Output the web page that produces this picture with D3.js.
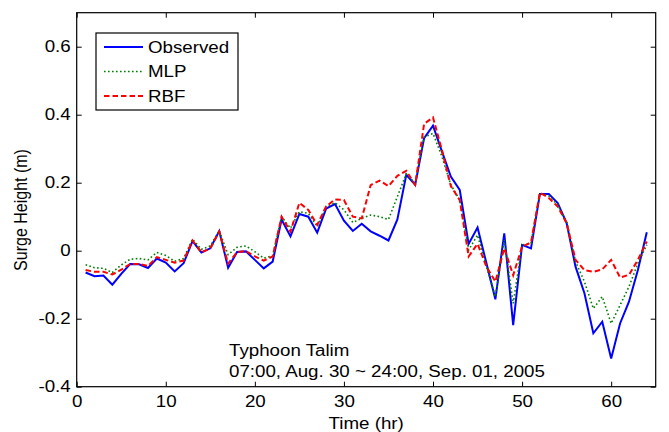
<!DOCTYPE html>
<html><head><meta charset="utf-8">
<script src="https://cdn.jsdelivr.net/npm/d3@7"></script>
<style>body{margin:0;background:#fff}svg{display:block}text{font-family:"Liberation Sans",Arial,sans-serif;font-size:16px;fill:#000}</style>
</head><body><svg id="c" width="669" height="432"></svg>
<script>
const hours=[1,2,3,4,5,6,7,8,9,10,11,12,13,14,15,16,17,18,19,20,21,22,23,24,25,26,27,28,29,30,31,32,33,34,35,36,37,38,39,40,41,42,43,44,45,46,47,48,49,50,51,52,53,54,55,56,57,58,59,60,61,62,63,64];
const observed=[-0.064,-0.075,-0.073,-0.100,-0.068,-0.039,-0.040,-0.051,-0.023,-0.035,-0.061,-0.037,0.028,-0.005,0.007,0.058,-0.050,-0.004,-0.002,-0.027,-0.052,-0.032,0.092,0.042,0.108,0.100,0.053,0.124,0.137,0.088,0.058,0.079,0.057,0.044,0.030,0.092,0.223,0.194,0.331,0.368,0.292,0.218,0.179,0.020,0.068,-0.037,-0.143,0.051,-0.219,0.017,0.007,0.167,0.167,0.140,0.081,-0.047,-0.125,-0.243,-0.209,-0.317,-0.214,-0.150,-0.057,0.054];
const mlp=[-0.041,-0.050,-0.052,-0.064,-0.042,-0.025,-0.023,-0.027,-0.005,-0.014,-0.031,-0.023,0.034,0.004,0.014,0.059,-0.012,0.010,0.014,-0.003,-0.022,-0.015,0.100,0.066,0.115,0.110,0.071,0.130,0.141,0.120,0.083,0.095,0.105,0.100,0.092,0.159,0.226,0.198,0.334,0.345,0.277,0.194,0.149,0.002,0.046,-0.047,-0.135,0.032,-0.155,0.017,0.022,0.169,0.161,0.135,0.086,-0.032,-0.091,-0.170,-0.135,-0.214,-0.160,-0.106,-0.037,0.017];
const rbf=[-0.057,-0.062,-0.062,-0.070,-0.056,-0.039,-0.039,-0.045,-0.019,-0.027,-0.035,-0.029,0.030,-0.005,0.007,0.056,-0.038,-0.004,-0.001,-0.017,-0.029,-0.017,0.100,0.056,0.141,0.120,0.076,0.130,0.151,0.149,0.100,0.095,0.193,0.206,0.190,0.220,0.235,0.194,0.373,0.392,0.296,0.190,0.149,-0.017,0.020,-0.047,-0.091,0.007,-0.072,0.012,0.024,0.171,0.155,0.130,0.081,-0.027,-0.057,-0.062,-0.055,-0.027,-0.079,-0.071,-0.027,0.027];
const xTicks=[0,10,20,30,40,50,60];
const yTicks=[-0.4,-0.2,0,0.2,0.4,0.6];
const seriesNames=["Observed","MLP","RBF"];
const titleLines=["Typhoon Talim","07:00, Aug. 30 ~ 24:00, Sep. 01, 2005"];
const xLabel="Time (hr)", yLabel="Surge Height (m)";

const svg=d3.select("#c");
const L=76.7,R=655.7,T=12.7,B=386.7;
const x=d3.scaleLinear().domain([0,65]).range([L,R]);
const y=d3.scaleLinear().domain([-0.4,0.7]).range([B,T]);
const STRETCH=1.17;

// axes
const ax=(g,axis)=>{g.call(axis);g.select(".domain").remove();g.selectAll("line").attr("stroke","#000");g.selectAll("text").attr("font-size",null).attr("font-family",null).classed("st",true);};
svg.append("g").attr("transform",`translate(0,${B})`).call(g=>ax(g,d3.axisBottom(x).tickValues(xTicks).tickSizeInner(-5).tickSizeOuter(0).tickPadding(9).tickFormat(d=>String(d))));
svg.append("g").attr("transform",`translate(0,${T})`).call(g=>ax(g,d3.axisTop(x).tickValues(xTicks).tickSizeInner(-5).tickSizeOuter(0).tickFormat("")));
svg.append("g").attr("transform",`translate(${L},0)`).call(g=>ax(g,d3.axisLeft(y).tickValues(yTicks).tickSizeInner(-5).tickSizeOuter(0).tickPadding(6).tickFormat(d=>String(d))));
svg.append("g").attr("transform",`translate(${R},0)`).call(g=>ax(g,d3.axisRight(y).tickValues(yTicks).tickSizeInner(-5).tickSizeOuter(0).tickFormat("")));
svg.selectAll("g.tick text").attr("fill","#000");

// lines
const styles=[{c:"#0000ff",w:2,d:null},{c:"#008000",w:1.6,d:"1.6,2.4"},{c:"#ff0000",w:2,d:"5.5,3"}];
const data=[observed,mlp,rbf];
const line=d3.line().x((d,i)=>x(hours[i])).y(d=>y(d));
svg.append("clipPath").attr("id","cp").append("rect").attr("x",L).attr("y",T).attr("width",R-L).attr("height",B-T);
data.forEach((s,k)=>{
  svg.append("path").datum(s).attr("d",line).attr("fill","none").attr("stroke",styles[k].c)
    .attr("stroke-width",styles[k].w).attr("stroke-dasharray",styles[k].d).attr("stroke-linejoin","miter").attr("clip-path","url(#cp)");
});

// box
svg.append("rect").attr("x",L).attr("y",T).attr("width",R-L).attr("height",B-T).attr("fill","none").attr("stroke","#000").attr("stroke-width",1.2);

// legend
const lg=svg.append("g");
lg.append("rect").attr("x",96).attr("y",33).attr("width",142).attr("height",77).attr("fill","#fff").attr("stroke","#000").attr("stroke-width",1.2);
seriesNames.forEach((n,k)=>{
  const yy=47+k*24.5;
  lg.append("line").attr("x1",104).attr("x2",143).attr("y1",yy).attr("y2",yy).attr("stroke",styles[k].c).attr("stroke-width",styles[k].w).attr("stroke-dasharray",styles[k].d);
  lg.append("text").attr("class","st").attr("x",148).attr("y",yy+5.8).text(n);
});

// annotation
titleLines.forEach((t,k)=>svg.append("text").attr("class","st").attr("x",229).attr("y",356+k*21).text(t));

// axis labels
svg.append("text").attr("class","st").attr("x",(L+R)/2).attr("y",429).attr("text-anchor","middle").text(xLabel);
svg.append("text").attr("transform",`translate(27,210) scale(${STRETCH},1) rotate(-90)`).attr("text-anchor","middle").text(yLabel);

// horizontal stretch to match reference aspect
svg.selectAll("text.st").each(function(){const w=this.getComputedTextLength();this.setAttribute("textLength",w*STRETCH);this.setAttribute("lengthAdjust","spacingAndGlyphs");});
</script></body></html>
